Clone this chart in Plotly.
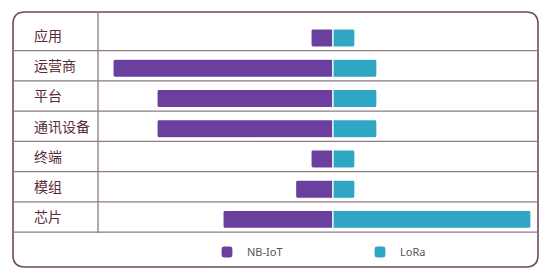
import plotly.graph_objects as go

categories = ["应用", "运营商", "平台", "通讯设备", "终端", "模组", "芯片"]
nbiot = [1.0, 10.0, 8.0, 8.0, 1.0, 1.7, 5.0]
lora = [1.0, 2.0, 2.0, 2.0, 1.0, 1.0, 9.0]
series_names = ["NB-IoT", "LoRa"]

PURPLE = "#6b3f9e"
CYAN = "#2ea6c4"
BORDER = "#6e4a56"
GRID = "#8e7b80"

W, H = 548, 276
L, R, T, B = 98, 10, 12, 43
pw, ph = W - L - R, H - T - B

def px_x(p):
    return (p - L) / pw

def px_y(p):
    return (H - B - p) / ph

fig = go.Figure()
fig.add_trace(go.Bar(
    y=categories, x=[-v for v in nbiot], orientation="h", name=series_names[0],
    marker=dict(color=PURPLE, line=dict(color="white", width=1.2), cornerradius=2),
    width=0.6,
))
fig.add_trace(go.Bar(
    y=categories, x=lora, orientation="h", name=series_names[1],
    marker=dict(color=CYAN, line=dict(color="white", width=1.2), cornerradius=2),
    width=0.6,
))

shapes = []
# rounded outer border
x0, x1 = px_x(13), px_x(538)
y0, y1 = px_y(267), px_y(12)
rx, ry = 12 / pw, 12 / ph
path = (f"M{x0+rx},{y1} L{x1-rx},{y1} Q{x1},{y1} {x1},{y1-ry} "
        f"L{x1},{y0+ry} Q{x1},{y0} {x1-rx},{y0} L{x0+rx},{y0} "
        f"Q{x0},{y0} {x0},{y0+ry} L{x0},{y1-ry} Q{x0},{y1} {x0+rx},{y1} Z")
shapes.append(dict(type="path", xref="paper", yref="paper", path=path,
                   line=dict(color=BORDER, width=1.6)))
# row separators
for i in range(len(categories)):
    shapes.append(dict(type="line", xref="paper", yref="y",
                       x0=x0, x1=x1, y0=i + 0.42, y1=i + 0.42,
                       line=dict(color=GRID, width=1.3)))
# vertical divider
shapes.append(dict(type="line", xref="paper", yref="paper",
                   x0=0, x1=0, y0=0, y1=1, line=dict(color=GRID, width=1.3)))

annotations = []
for c in categories:
    annotations.append(dict(xref="paper", yref="y", x=px_x(32), y=c,
                            xanchor="left", yanchor="middle", showarrow=False, yshift=3,
                            text=c, font=dict(family="Noto Sans CJK SC", size=14, color="#5a2c35")))

fig.update_layout(
    width=W, height=H,
    margin=dict(l=L, r=R, t=T, b=B, pad=0),
    paper_bgcolor="white", plot_bgcolor="white",
    barmode="relative", bargap=0.4,
    shapes=shapes, annotations=annotations,
    showlegend=True,
    legend=dict(orientation="h", x=px_x(207), y=px_y(252), xanchor="left", yanchor="middle",
                entrywidth=108, entrywidthmode="pixels",
                font=dict(family="Noto Sans", size=11, color="#555555"),
                bgcolor="rgba(0,0,0,0)"),
    xaxis=dict(range=[-10.68, 9.32], visible=False, fixedrange=True),
    yaxis=dict(range=[6.45, -0.86], visible=False, type="category",
               categoryorder="array", categoryarray=categories),
)

fig.write_html("out.html")
